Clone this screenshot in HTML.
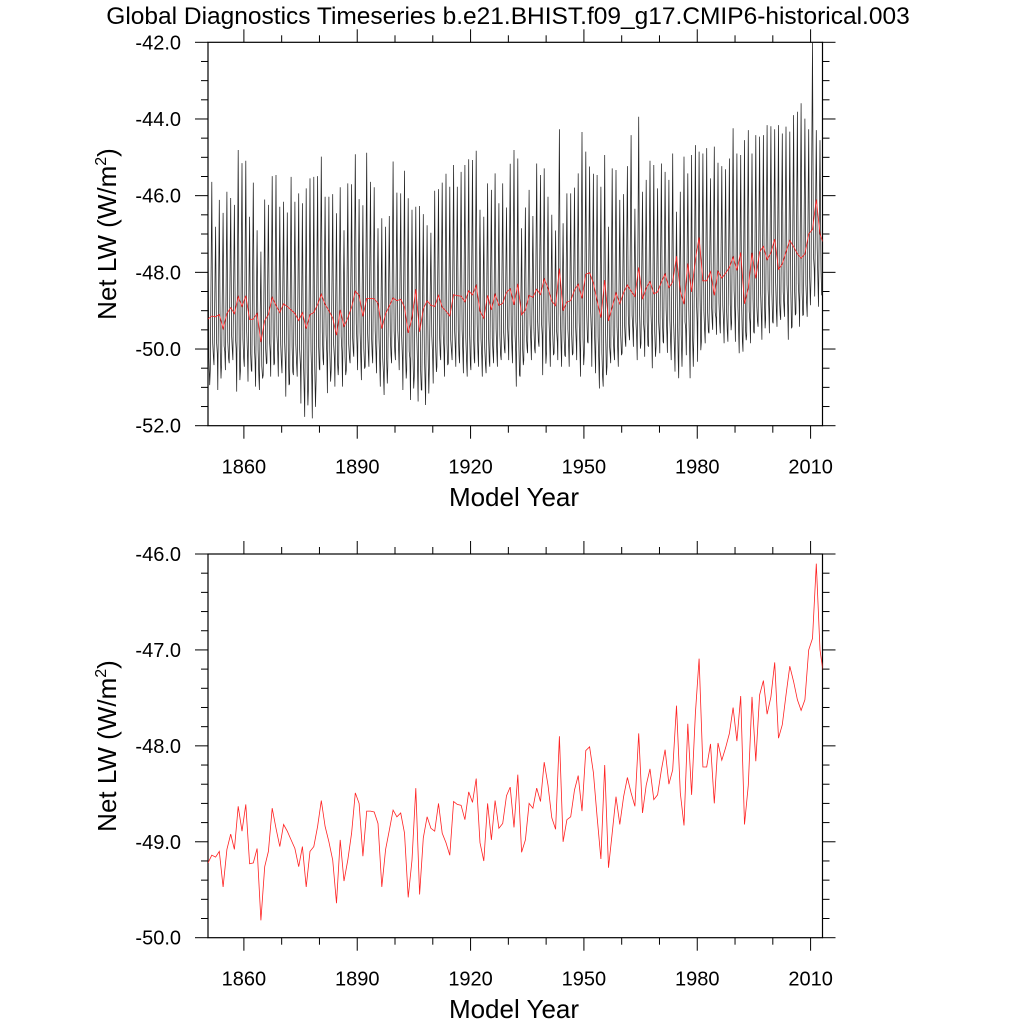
<!DOCTYPE html>
<html><head><meta charset="utf-8"><style>
html,body{margin:0;padding:0;background:#fff;}
svg{display:block;font-family:"Liberation Sans",Arial,sans-serif;}
</style></head><body>
<svg id="chart" width="1024" height="1024" viewBox="0 0 1024 1024" xmlns="http://www.w3.org/2000/svg">
<defs>
<clipPath id="clipTop"><rect x="208" y="42.3" width="614.5" height="383.4"/></clipPath>
<clipPath id="clipBot"><rect x="208" y="554" width="614.5" height="383.7"/></clipPath>
</defs>
<rect width="1024" height="1024" fill="#fff"/>
<text x="508" y="24" font-size="24.5" text-anchor="middle">Global Diagnostics Timeseries b.e21.BHIST.f09_g17.CMIP6-historical.003</text>
<g id="top"></g>
<g id="bot"></g>
<text x="514" y="506" font-size="26" text-anchor="middle">Model Year</text>
<text x="514" y="1018" font-size="26" text-anchor="middle">Model Year</text>
<text transform="translate(116,234) rotate(-90)" font-size="26" text-anchor="middle">Net LW (W/m<tspan dy="-10" font-size="16">2</tspan><tspan dy="10">)</tspan></text>
<text transform="translate(116,746) rotate(-90)" font-size="26" text-anchor="middle">Net LW (W/m<tspan dy="-10" font-size="16">2</tspan><tspan dy="10">)</tspan></text>
</svg>
<script>
const startYear = 1850;
const annualMean = [-49.22,-49.14,-49.16,-49.10,-49.47,-49.08,-48.92,-49.08,-48.63,-48.89,-48.61,-49.23,-49.22,-49.07,-49.82,-49.26,-49.10,-48.65,-48.86,-49.05,-48.82,-48.89,-48.98,-49.07,-49.26,-49.05,-49.47,-49.10,-49.05,-48.84,-48.57,-48.84,-49.00,-49.19,-49.64,-48.98,-49.41,-49.19,-48.91,-48.49,-48.60,-49.15,-48.68,-48.68,-48.69,-48.81,-49.47,-49.08,-48.88,-48.67,-48.74,-48.70,-48.91,-49.58,-49.19,-48.44,-49.55,-48.96,-48.74,-48.86,-48.89,-48.60,-48.91,-49.01,-49.14,-48.58,-48.61,-48.62,-48.77,-48.48,-48.59,-48.34,-49.01,-49.20,-48.60,-48.98,-48.57,-48.86,-48.81,-48.52,-48.43,-48.85,-48.30,-49.11,-48.98,-48.60,-48.65,-48.44,-48.58,-48.17,-48.41,-48.75,-48.87,-47.90,-49.00,-48.77,-48.74,-48.46,-48.31,-48.68,-48.05,-48.01,-48.28,-48.74,-49.18,-48.20,-49.27,-48.91,-48.53,-48.82,-48.53,-48.33,-48.49,-48.63,-47.87,-48.70,-48.41,-48.24,-48.56,-48.51,-48.25,-48.04,-48.40,-48.25,-47.58,-48.49,-48.83,-47.77,-48.51,-47.66,-47.09,-48.22,-48.22,-47.98,-48.60,-47.97,-48.15,-48.02,-47.87,-47.60,-47.95,-47.48,-48.82,-48.41,-47.49,-48.16,-47.47,-47.32,-47.67,-47.49,-47.13,-47.92,-47.78,-47.47,-47.17,-47.33,-47.52,-47.63,-47.52,-47.00,-46.88,-46.10,-47.00,-47.28];
const monthlyPeak = [-46.37,-45.64,-46.81,-46.11,-46.45,-45.90,-46.06,-46.24,-44.81,-45.15,-45.09,-46.55,-45.66,-46.90,-47.46,-46.10,-46.24,-45.49,-45.46,-46.29,-46.16,-46.44,-45.51,-46.16,-45.94,-46.20,-45.81,-45.55,-45.51,-45.49,-44.98,-46.03,-46.03,-45.96,-46.46,-45.78,-46.90,-45.68,-45.70,-44.92,-46.09,-46.25,-44.88,-45.64,-45.78,-46.85,-46.59,-46.81,-46.53,-45.11,-45.92,-45.94,-45.35,-46.07,-46.37,-46.29,-46.27,-46.48,-46.77,-46.97,-45.87,-45.83,-45.66,-45.43,-45.77,-45.20,-45.77,-45.38,-45.20,-45.05,-45.07,-44.83,-46.37,-46.55,-45.68,-45.85,-45.42,-46.20,-45.68,-46.31,-45.17,-44.81,-45.03,-46.85,-46.31,-45.85,-46.53,-45.16,-45.46,-45.29,-46.03,-46.50,-46.91,-44.27,-46.72,-45.94,-45.94,-45.79,-45.42,-44.34,-44.85,-45.24,-45.43,-45.46,-45.77,-44.94,-46.81,-45.29,-45.33,-46.11,-45.96,-45.23,-44.42,-46.34,-43.94,-45.90,-45.59,-45.09,-45.20,-45.81,-45.16,-45.38,-45.59,-44.90,-46.42,-45.90,-44.98,-45.42,-44.94,-44.68,-44.85,-44.90,-44.76,-45.55,-44.72,-45.14,-45.23,-45.31,-45.03,-44.24,-44.90,-44.94,-44.55,-44.29,-44.90,-44.42,-44.46,-44.42,-44.16,-44.19,-44.27,-44.16,-44.38,-44.20,-44.33,-43.90,-43.81,-43.59,-43.99,-44.27,-41.94,-44.29,-44.55,-43.66];
const monthlyTrough = [-51.24,-50.55,-50.42,-51.07,-50.37,-50.55,-50.37,-50.29,-51.11,-50.55,-50.46,-50.85,-50.59,-50.98,-51.07,-50.68,-50.37,-50.72,-50.37,-50.72,-50.63,-51.24,-50.90,-50.68,-50.72,-51.42,-51.77,-50.98,-51.81,-50.81,-50.55,-50.42,-51.15,-50.55,-50.98,-50.37,-50.98,-50.55,-50.37,-50.20,-50.55,-50.81,-50.46,-50.46,-50.37,-50.63,-50.98,-51.20,-50.46,-50.37,-50.29,-50.55,-51.07,-50.55,-51.33,-50.72,-51.37,-51.07,-51.46,-50.46,-50.90,-50.46,-50.29,-50.72,-50.37,-50.29,-50.46,-50.37,-50.63,-50.72,-50.55,-50.37,-50.46,-50.72,-50.63,-50.46,-50.37,-50.46,-50.29,-50.11,-50.29,-50.37,-50.98,-50.72,-50.29,-50.11,-50.29,-50.11,-49.94,-50.68,-50.11,-50.46,-50.11,-50.29,-50.46,-50.20,-50.46,-50.11,-50.29,-50.72,-50.11,-49.85,-50.46,-50.63,-51.03,-50.98,-50.46,-50.37,-50.29,-50.46,-50.11,-49.94,-49.77,-49.94,-50.29,-49.85,-50.20,-49.94,-50.50,-49.94,-50.11,-49.85,-50.10,-50.29,-50.59,-50.76,-49.76,-50.16,-50.76,-49.59,-50.33,-49.81,-49.85,-49.59,-49.50,-49.63,-49.59,-49.85,-49.81,-49.33,-49.81,-50.11,-50.07,-49.63,-49.85,-49.59,-49.42,-49.76,-49.24,-49.59,-49.33,-49.42,-49.24,-49.16,-49.76,-49.42,-49.07,-49.42,-49.11,-49.16,-48.20,-48.63,-48.90,-48.55];
const xTickYears = [1860,1890,1920,1950,1980,2010];
const xTickLabels = ["1860","1890","1920","1950","1980","2010"];
const topYTicks = [-42,-44,-46,-48,-50,-52];
const topYLabels = ["-42.0","-44.0","-46.0","-48.0","-50.0","-52.0"];
const botYTicks = [-46,-47,-48,-49,-50];
const botYLabels = ["-46.0","-47.0","-48.0","-49.0","-50.0"];

const NS = "http://www.w3.org/2000/svg";
const X0 = 208, X1 = 822.5, PXYR = 3.778;
function xS(t){ return X0 + (t - (startYear + 0.5)) * PXYR; }
function mk(tag, attrs, parent){ const e = document.createElementNS(NS, tag); for (const k in attrs) e.setAttribute(k, attrs[k]); parent.appendChild(e); return e; }

function panel(g, y0, y1, vmax, vmin, ticks, labels, minorStep, clipId, withMonthly, prefix){
  const yS = v => y0 + (vmax - v) / (vmax - vmin) * (y1 - y0);
  const fr = mk('rect', {x:X0, y:y0, width:X1-X0, height:y1-y0, fill:'none', stroke:'#000', 'stroke-width':1.2}, g);
  
  
  for (let v = vmax; v >= vmin - 1e-9; v -= minorStep) {
    const isMajor = ticks.some(t => Math.abs(t - v) < 1e-6);
    const L = isMajor ? 13 : 7;
    const yy = yS(v);
    const tl = mk('line', {x1:X0-L, y1:yy, x2:X0, y2:yy, stroke:'#000', 'stroke-width':1}, g);
    
    
    const tr = mk('line', {x1:X1, y1:yy, x2:X1+L, y2:yy, stroke:'#000', 'stroke-width':1}, g);
    
    
  }
  ticks.forEach((v, k) => {
    const t = mk('text', {x:181, y:yS(v)+7, 'font-size':20, 'text-anchor':'end'}, g);
    t.textContent = labels[k];
    
    
  });
  for (let yr = 1860; yr <= 2010; yr += 10) {
    const isMajor = xTickYears.includes(yr);
    const L = isMajor ? 13 : 7;
    const xx = xS(yr);
    const b = mk('line', {x1:xx, y1:y1, x2:xx, y2:y1+L, stroke:'#000', 'stroke-width':1}, g);
    
    
    const tp = mk('line', {x1:xx, y1:y0-L, x2:xx, y2:y0, stroke:'#000', 'stroke-width':1}, g);
    
    
  }
  xTickYears.forEach((yr, k) => {
    const t = mk('text', {x:xS(yr), y:y1+48, 'font-size':20, 'text-anchor':'middle'}, g);
    t.textContent = xTickLabels[k];
    
    
  });
  const cg = mk('g', {'clip-path':'url(#' + clipId + ')'}, g);
  if (withMonthly) {
    let pts = [];
    for (let i = 0; i < monthlyPeak.length; i++) {
      const b = startYear + i;
      pts.push(xS(b + 0.1).toFixed(1) + ',' + yS(monthlyTrough[i]).toFixed(1));
      pts.push(xS(b + 0.5).toFixed(1) + ',' + yS(monthlyPeak[i]).toFixed(1));
      pts.push(xS(b + 0.75).toFixed(1) + ',' + yS((annualMean[i] + monthlyTrough[i]) / 2).toFixed(1));
      pts.push(xS(b + 0.95).toFixed(1) + ',' + yS(monthlyTrough[i] + 0.3).toFixed(1));
    }
    const ml = mk('polyline', {points:pts.join(' '), fill:'none', stroke:'#222', 'stroke-width':0.75}, cg);
    
    
  }
  const ap = annualMean.map((v, i) => xS(startYear + i + 0.5).toFixed(1) + ',' + yS(v).toFixed(1)).join(' ');
  const al = mk('polyline', {points:ap, fill:'none', stroke:'#f22', 'stroke-width':0.8}, cg);
  
  
}
panel(document.getElementById('top'), 42.3, 425.7, -42, -52, topYTicks, topYLabels, 0.5, 'clipTop', true, 'top');
panel(document.getElementById('bot'), 554, 937.7, -46, -50, botYTicks, botYLabels, 0.2, 'clipBot', false, 'bottom');
</script>
</body></html>
